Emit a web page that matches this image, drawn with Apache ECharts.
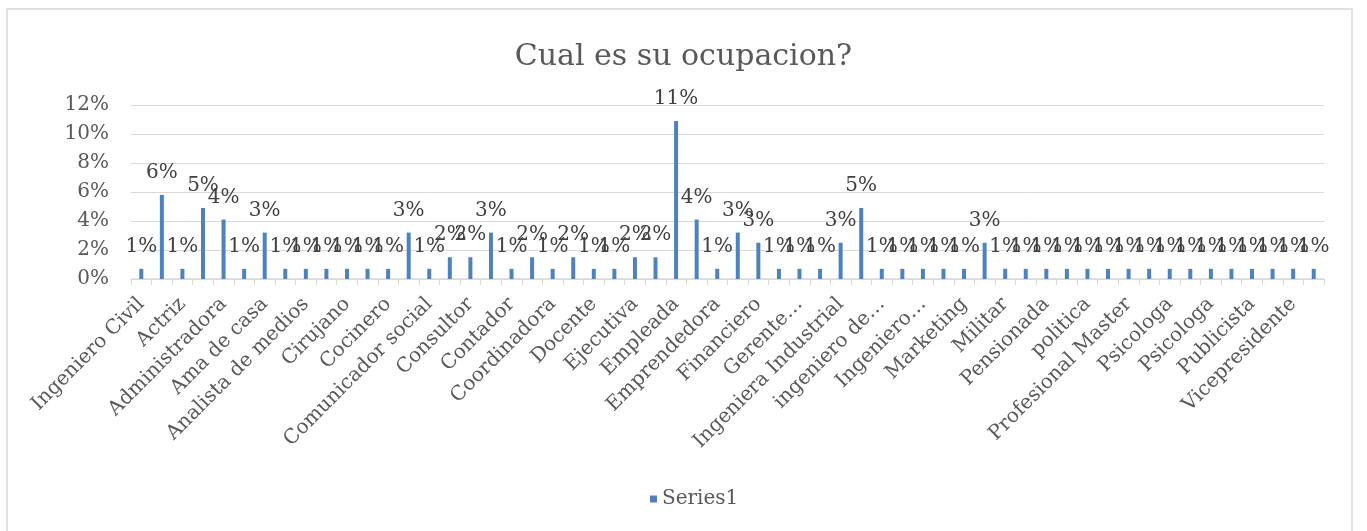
<!DOCTYPE html>
<html>
<head>
<meta charset="utf-8">
<title>Cual es su ocupacion?</title>
<script src="https://cdn.jsdelivr.net/npm/echarts@6/dist/echarts.min.js"></script>
<style>
  html, body { margin: 0; padding: 0; background: #fff; }
  #chart { width: 1367px; height: 531px; }
</style>
</head>
<body>
<div id="chart"></div>
<script>
// categorias (solo se ven las pares en el eje)
const categories = [
  "Ingeniero Civil", "Abogado", "Actriz", "Administrador", "Administradora",
  "Agente", "Ama de casa", "Analista", "Analista de medios", "Arquitecto",
  "Cirujano", "Coach", "Cocinero", "Comerciante", "Comunicador social",
  "Constructor", "Consultor", "Consultora", "Contador", "Contadora",
  "Coordinadora", "Diseñadora", "Docente", "Economista", "Ejecutiva",
  "Ejecutivo", "Empleada", "Empleado", "Emprendedora", "Estudiante",
  "Financiero", "Gerente", "Gerente…", "Gerente General", "Ingeniera Industrial",
  "Ingeniero", "ingeniero de…", "Ingeniero Industrial", "Ingeniero…", "Investigador",
  "Marketing", "Medico", "Militar", "Odontologo", "Pensionada",
  "Periodista", "politica", "Profesional", "Profesional Master", "Profesora",
  "Psicologa", "Psicologo", "Psicologa", "Publicidad", "Publicista",
  "Secretaria", "Vicepresidente", "Zootecnista"
];

// porcentaje por ocupacion (Series1)
const series1 = [
  0.7, 5.8, 0.7, 4.9, 4.1, 0.7, 3.2, 0.7, 0.7, 0.7,
  0.7, 0.7, 0.7, 3.2, 0.7, 1.5, 1.5, 3.2, 0.7, 1.5,
  0.7, 1.5, 0.7, 0.7, 1.5, 1.5, 10.9, 4.1, 0.7, 3.2,
  2.5, 0.7, 0.7, 0.7, 2.5, 4.9, 0.7, 0.7, 0.7, 0.7,
  0.7, 2.5, 0.7, 0.7, 0.7, 0.7, 0.7, 0.7, 0.7, 0.7,
  0.7, 0.7, 0.7, 0.7, 0.7, 0.7, 0.7, 0.7
];

const yTicks = [0, 2, 4, 6, 8, 10, 12];

const FONT = "DejaVu Serif";
const chart = echarts.init(document.getElementById("chart"));

chart.setOption({
  backgroundColor: "#fff",
  animation: false,
  graphic: [{
    type: "rect",
    shape: { x: 7, y: 9, width: 1345, height: 540 },
    style: { fill: "none", stroke: "#d9d9d9", lineWidth: 1.5 },
    silent: true
  }],
  title: {
    text: "Cual es su ocupacion?",
    left: "center",
    top: 37,
    textStyle: { fontFamily: FONT, fontSize: 30, fontWeight: "normal", color: "#595959" }
  },
  legend: {
    data: ["Series1"],
    left: 645,
    top: 484,
    icon: "rect",
    itemWidth: 7,
    itemHeight: 7,
    textStyle: { fontFamily: FONT, fontSize: 20, color: "#595959" }
  },
  grid: { left: 131, right: 43, top: 105, bottom: 252 },
  xAxis: {
    type: "category",
    data: categories,
    axisLine: { lineStyle: { color: "#d9d9d9", width: 1.5 } },
    axisTick: { show: true, interval: 0, length: 6, lineStyle: { color: "#d9d9d9" } },
    axisLabel: {
      interval: 1,
      rotate: 45,
      margin: 22,
      fontFamily: FONT,
      fontSize: 20,
      color: "#595959"
    }
  },
  yAxis: {
    type: "value",
    min: yTicks[0],
    max: yTicks[yTicks.length - 1],
    interval: 2,
    axisLine: { show: false },
    axisTick: { show: false },
    splitLine: { lineStyle: { color: "#d9d9d9", width: 1 } },
    axisLabel: {
      formatter: "{value}%",
      margin: 22,
      fontFamily: FONT,
      fontSize: 20,
      color: "#595959"
    }
  },
  series: [{
    name: "Series1",
    type: "bar",
    data: series1,
    barWidth: 4,
    itemStyle: { color: "#4F81BD" },
    label: {
      show: true,
      position: "top",
      distance: 12,
      formatter: (p) => Math.round(p.value) + "%",
      fontFamily: FONT,
      fontSize: 20,
      color: "#404040"
    }
  }]
});
</script>
</body>
</html>
